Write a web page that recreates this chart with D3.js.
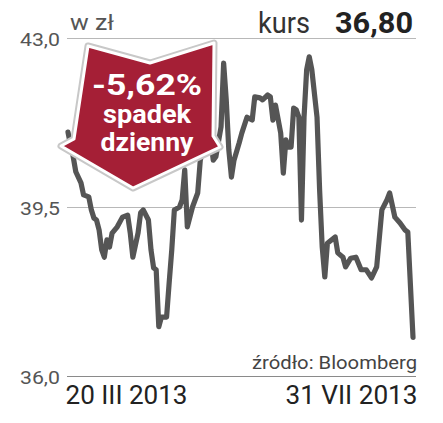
<!DOCTYPE html>
<html lang="pl">
<head>
<meta charset="utf-8">
<title>kurs</title>
<script src="https://cdn.jsdelivr.net/npm/d3@7"></script>
<style>
  body { margin: 0; background: #fff; }
  svg text { font-family: "Roboto", "Liberation Sans", sans-serif; }
</style>
</head>
<body>
<script>
// Daily close
var dates = ["2013-03-20","2013-03-21","2013-03-22","2013-03-23","2013-03-25","2013-03-26","2013-03-28","2013-03-29","2013-03-30","2013-03-31",
  "2013-04-01","2013-04-02","2013-04-03","2013-04-04","2013-04-05","2013-04-06","2013-04-08","2013-04-10","2013-04-12","2013-04-13",
  "2013-04-14","2013-04-16","2013-04-17","2013-04-18","2013-04-20","2013-04-21","2013-04-22","2013-04-23","2013-04-24","2013-04-25",
  "2013-04-27","2013-04-28","2013-04-29","2013-04-30","2013-05-02","2013-05-03","2013-05-04","2013-05-05","2013-05-07","2013-05-09",
  "2013-05-10","2013-05-11","2013-05-13","2013-05-14","2013-05-15","2013-05-16","2013-05-18","2013-05-19","2013-05-20","2013-05-21",
  "2013-05-22","2013-05-23","2013-05-25","2013-05-26","2013-05-28","2013-05-30","2013-05-31","2013-06-02","2013-06-03","2013-06-05",
  "2013-06-06","2013-06-07","2013-06-08","2013-06-10","2013-06-11","2013-06-12","2013-06-13","2013-06-14","2013-06-15","2013-06-16",
  "2013-06-17","2013-06-18","2013-06-19","2013-06-20","2013-06-21","2013-06-22","2013-06-24","2013-06-25","2013-06-26","2013-06-27",
  "2013-06-28","2013-07-01","2013-07-02","2013-07-04","2013-07-05","2013-07-07","2013-07-09","2013-07-11","2013-07-13","2013-07-15",
  "2013-07-17","2013-07-19","2013-07-21","2013-07-22","2013-07-24","2013-07-26","2013-07-28","2013-07-29","2013-07-31"];
var prices = [41.05,40.78,40.54,40.23,40.00,39.75,39.71,39.44,39.27,39.23,
  39.02,38.61,38.46,38.82,38.67,38.96,39.09,39.29,39.33,38.96,
  38.46,38.96,39.38,39.44,39.23,38.61,38.24,38.20,37.02,37.22,
  37.22,37.93,38.61,39.44,39.50,39.65,40.27,39.09,39.50,39.79,
  40.47,40.68,40.89,40.89,40.47,40.54,41.16,42.48,41.72,40.68,
  40.12,40.47,40.83,41.03,41.36,41.30,41.78,41.76,41.72,41.82,
  41.78,41.30,41.61,41.03,40.20,40.89,40.74,40.74,41.55,41.51,
  41.36,39.23,41.36,42.34,42.61,42.34,41.36,39.85,38.67,38.05,
  38.75,38.88,38.55,38.46,38.26,38.44,38.46,38.20,38.20,38.03,
  38.26,39.44,39.65,39.79,39.29,39.17,39.02,38.98,36.80];

var yTicks = [36.0, 39.5, 43.0];
var xTickDates = ["2013-03-20", "2013-07-31"];
var xTickLabels = ["20 III 2013", "31 VII 2013"];
var unitLabel = "w zł";
var lastLabel = "kurs";
var lastValue = "36,80";
var changeLines = ["-5,62%", "spadek", "dzienny"];
var sourceLabel = "źródło: Bloomberg";

var w = 443, h = 423;
var padLeft = 67, padRight = 416, padTop = 38, padBottom = 376;

var parseDate = d3.timeParse("%Y-%m-%d");
var data = dates.map(function(d, i) { return { date: parseDate(d), value: prices[i] }; });

var xScale = d3.scaleTime()
  .domain(d3.extent(data, function(d) { return d.date; }))
  .range([68, 413]);
var yScale = d3.scaleLinear()
  .domain([36, 43])
  .range([padBottom, padTop]);

var svg = d3.select("body").append("svg")
  .attr("width", w)
  .attr("height", h);

// Y axis with gridlines
var yAxis = d3.axisLeft(yScale)
  .tickValues(yTicks)
  .tickSize(-(padRight - padLeft))
  .tickPadding(7)
  .tickFormat(function(d) { return d3.format(".1f")(d).replace(".", ","); });

var gy = svg.append("g")
  .attr("transform", "translate(" + padLeft + ",0)")
  .call(yAxis);
gy.select(".domain").remove();
gy.selectAll(".tick line")
  .attr("stroke", function(d) { return d === 36 ? "#8a8a8a" : "#b8b8b8"; })
  .attr("stroke-width", 1);
gy.selectAll(".tick text")
  .attr("fill", "#555")
  .attr("font-size", 19)
  .attr("dy", "0.42em")
  .attr("textLength", 40)
  .attr("lengthAdjust", "spacingAndGlyphs");

// X axis: only the two end dates
var xAxis = d3.axisBottom(xScale)
  .tickValues(xTickDates.map(parseDate))
  .tickSize(0)
  .tickPadding(0)
  .tickFormat(function(d, i) { return xTickLabels[i]; });

var gx = svg.append("g")
  .attr("transform", "translate(0," + padBottom + ")")
  .call(xAxis);
gx.select(".domain").remove();
gx.selectAll(".tick text")
  .attr("fill", "#222")
  .attr("font-size", 25)
  .attr("y", 28)
  .attr("dy", 0)
  .attr("text-anchor", function(d, i) { return i === 0 ? "start" : "end"; })
  .attr("x", function(d, i) { return i === 0 ? -3 : 4; })
  .attr("textLength", function(d, i) { return i === 0 ? 122 : 132; })
  .attr("lengthAdjust", "spacingAndGlyphs");

// price line
var line = d3.line()
  .x(function(d) { return xScale(d.date); })
  .y(function(d) { return yScale(d.value); });

svg.append("path")
  .datum(data)
  .attr("fill", "none")
  .attr("stroke", "#555")
  .attr("stroke-width", 5.2)
  .attr("stroke-linejoin", "round")
  .attr("stroke-linecap", "round")
  .attr("d", line);

// header texts
svg.append("text")
  .attr("x", 70).attr("y", 30)
  .attr("font-size", 22)
  .attr("fill", "#555")
  .attr("textLength", 44)
  .attr("lengthAdjust", "spacingAndGlyphs")
  .text(unitLabel);

svg.append("text")
  .attr("x", 258).attr("y", 33)
  .attr("font-size", 30)
  .attr("fill", "#333")
  .attr("textLength", 52)
  .attr("lengthAdjust", "spacingAndGlyphs")
  .text(lastLabel);

svg.append("text")
  .attr("x", 413).attr("y", 33)
  .attr("text-anchor", "end")
  .attr("font-size", 30)
  .attr("font-weight", "bold")
  .attr("fill", "#222")
  .attr("textLength", 78)
  .attr("lengthAdjust", "spacingAndGlyphs")
  .text(lastValue);

svg.append("text")
  .attr("x", 417).attr("y", 369)
  .attr("text-anchor", "end")
  .attr("font-size", 18)
  .attr("fill", "#444")
  .attr("textLength", 165)
  .attr("lengthAdjust", "spacingAndGlyphs")
  .text(sourceLabel);

// red arrow
var arrowPts = [[88,46],[150,63],[214,43],[213,136],[220,147],[133,188],[61,146],[74,139]];
var arrowPath = "M" + arrowPts.join("L") + "Z";

svg.append("path")
  .attr("d", arrowPath)
  .attr("fill", "none")
  .attr("stroke", "#c8c8c8")
  .attr("stroke-width", 7)
  .attr("stroke-linejoin", "round");

svg.append("path")
  .attr("d", arrowPath)
  .attr("fill", "#a51f36")
  .attr("stroke", "#fff")
  .attr("stroke-width", 3)
  .attr("stroke-linejoin", "round");

var arrowText = [
  { y: 95, size: 29, len: 110 },
  { y: 123, size: 26, len: 88 },
  { y: 151, size: 26, len: 93 }
];
svg.selectAll(".arrow-text")
  .data(changeLines)
  .enter()
  .append("text")
  .attr("class", "arrow-text")
  .attr("x", 147)
  .attr("y", function(d, i) { return arrowText[i].y; })
  .attr("text-anchor", "middle")
  .attr("font-size", function(d, i) { return arrowText[i].size; })
  .attr("font-weight", "bold")
  .attr("fill", "#fff")
  .attr("textLength", function(d, i) { return arrowText[i].len; })
  .attr("lengthAdjust", "spacingAndGlyphs")
  .text(function(d) { return d; });
</script>
</body>
</html>
